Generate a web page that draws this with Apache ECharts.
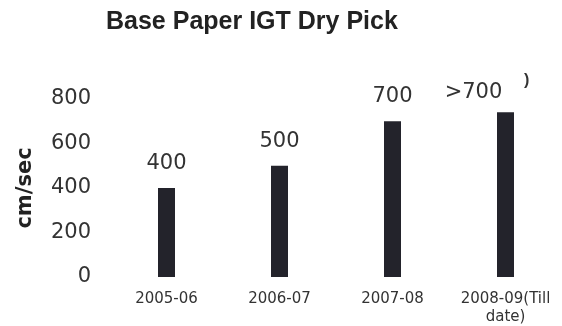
<!DOCTYPE html>
<html>
<head>
<meta charset="utf-8">
<script src="https://cdn.jsdelivr.net/npm/echarts@6/dist/echarts.min.js"></script>
<style>
  html, body { margin: 0; padding: 0; background: #fff; }
  #chart { width: 562px; height: 326px; }
</style>
</head>
<body>
<div id="chart"></div>
<script>
// Base paper IGT dry pick strength by season (cm/sec)
const seasons = ['2005-06', '2006-07', '2007-08', '2008-09(Till\ndate)'];
const pickValues = [400, 500, 700, 740];
const valueLabels = ['400', '500', '700', '>700'];
const yTicks = [0, 200, 400, 600, 800];

const chart = echarts.init(document.getElementById('chart'), null, { renderer: 'canvas' });

const barData = pickValues.map((v, i) => {
  const item = { value: v };
  if (i === pickValues.length - 1) {
    item.label = { offset: [-32, 5] };
  }
  return item;
});

chart.setOption({
  animation: false,
  backgroundColor: '#ffffff',
  title: {
    text: 'Base Paper IGT Dry Pick',
    left: 101,
    top: 5,
    textStyle: {
      fontFamily: 'Liberation Sans',
      fontWeight: 'bold',
      fontSize: 25,
      color: '#222'
    }
  },
  graphic: [{
    type: 'text',
    left: 524,
    top: 73,
    style: { text: ')', fontFamily: 'Liberation Sans', fontWeight: 'bold', fontSize: 16, fill: '#333' }
  }],
  grid: { left: 110, right: 0, top: 99, bottom: 49, outerBoundsMode: 'none', containLabel: false },
  xAxis: {
    type: 'category',
    data: seasons,
    axisLine: { show: false },
    axisTick: { show: false },
    axisLabel: {
      margin: 13,
      fontFamily: 'DejaVu Sans',
      fontSize: 15,
      color: '#333',
      lineHeight: 18,
      interval: 0
    }
  },
  yAxis: {
    type: 'value',
    min: 0,
    max: yTicks[yTicks.length - 1],
    interval: 200,
    name: 'cm/sec',
    nameLocation: 'middle',
    nameRotate: 90,
    nameGap: 74,
    nameTextStyle: {
      fontFamily: 'DejaVu Sans',
      fontWeight: 'bold',
      fontSize: 21,
      color: '#222'
    },
    axisLine: { show: false },
    axisTick: { show: false },
    splitLine: { show: false },
    axisLabel: {
      margin: 19,
      fontFamily: 'DejaVu Sans',
      fontSize: 21,
      color: '#333'
    }
  },
  series: [{
    type: 'bar',
    data: barData,
    barWidth: 17,
    itemStyle: { color: '#23232b' },
    label: {
      show: true,
      position: 'top',
      distance: 14,
      fontFamily: 'DejaVu Sans',
      fontSize: 21,
      color: '#333',
      formatter: p => valueLabels[p.dataIndex]
    }
  }]
});
</script>
</body>
</html>
